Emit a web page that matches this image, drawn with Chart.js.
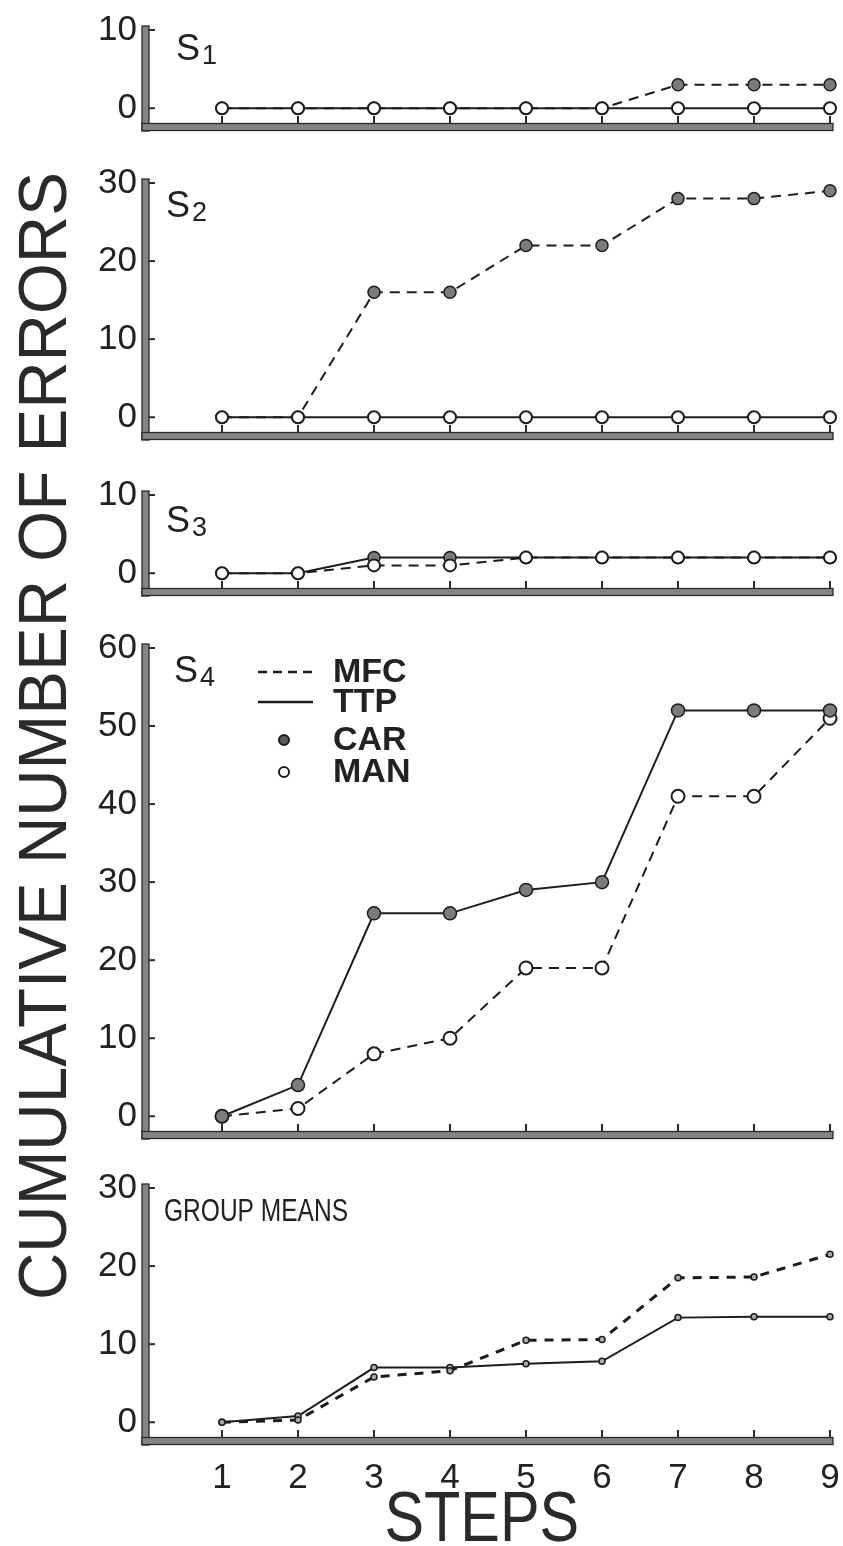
<!DOCTYPE html>
<html>
<head>
<meta charset="utf-8">
<script src="https://cdn.jsdelivr.net/npm/chart.js@4.4.0/dist/chart.umd.min.js"></script>
<style>
  html, body { margin: 0; padding: 0; background: #fff; }
  body { width: 843px; height: 1546px; position: relative; overflow: hidden;
         font-family: "Liberation Sans", Arial, sans-serif; color: #2a2a2a; }
  .ytitle { position: absolute; left: -522px; top: 722px; width: 1128px; height: 70px;
            line-height: 70px; font-size: 68px; text-align: center; white-space: nowrap;
            transform: rotate(-90deg); }
  .xtitle { position: absolute; left: 282px; top: 1482px; width: 400px; height: 70px;
            line-height: 70px; font-size: 70px; text-align: center; white-space: nowrap; }
  .ytitle span, .xtitle span { display: inline-block; }
</style>
</head>
<body>
<div class="ytitle"><span id="yt">CUMULATIVE NUMBER OF ERRORS</span></div>
<div class="xtitle"><span id="xt">STEPS</span></div>
<script>
// data
const steps = [1, 2, 3, 4, 5, 6, 7, 8, 9];

const s1Ticks = [0, 10];
const s1Mfc = [0, 0, 0, 0, 0, 0, 3, 3, 3];          // CAR
const s1Ttp = [0, 0, 0, 0, 0, 0, 0, 0, 0];          // MAN

const s2Ticks = [0, 10, 20, 30];
const s2Mfc = [0, 0, 16, 16, 22, 22, 28, 28, 29];   // CAR
const s2Ttp = [0, 0, 0, 0, 0, 0, 0, 0, 0];          // MAN

const s3Ticks = [0, 10];
const s3Ttp = [0, 0, 2, 2, 2, 2, 2, 2, 2];          // CAR
const s3Mfc = [0, 0, 1, 1, 2, 2, 2, 2, 2];          // MAN

const s4Ticks = [0, 10, 20, 30, 40, 50, 60];
const s4Ttp = [0, 4, 26, 26, 29, 30, 52, 52, 52];   // CAR
const s4Mfc = [0, 1, 8, 10, 19, 19, 41, 41, 51];    // MAN

const gmTicks = [0, 10, 20, 30];
const gmTtp = [0, 0.8, 7, 7, 7.5, 7.8, 13.4, 13.5, 13.5];
const gmMfc = [0, 0.3, 5.8, 6.6, 10.5, 10.6, 18.5, 18.6, 21.5];

const legendLabels = ['MFC', 'TTP', 'CAR', 'MAN'];

const PX = 7.8;      // pixels per error
const YMIN = -2.4;   // baseline sits a bit under zero
const FONT = '"Liberation Sans", Arial, sans-serif';
const INK = '#1c1c1c';

function series(data, dashed, filled, r, w) {
  return {
    data: data.map((v, i) => ({ x: steps[i], y: v })),
    borderColor: INK,
    borderWidth: w || 2,
    borderDash: dashed ? [10, 7] : [],
    pointRadius: r,
    pointBackgroundColor: filled ? '#7b7b7b' : '#fff',
    pointBorderColor: INK,
    pointBorderWidth: filled ? 1.5 : 2,
    tension: 0,
    fill: false,
    clip: false
  };
}

function decor(cfg) {
  return {
    id: 'decor',
    beforeDatasetsDraw(chart) {
      const { ctx, chartArea: a, scales: { x, y } } = chart;
      ctx.save();
      ctx.strokeStyle = '#2b2b2b';
      ctx.lineWidth = 2;
      steps.forEach(s => {
        const px = x.getPixelForValue(s);
        ctx.beginPath(); ctx.moveTo(px, a.bottom); ctx.lineTo(px, a.bottom - 11); ctx.stroke();
      });
      cfg.yTicks.forEach(v => {
        const py = y.getPixelForValue(v);
        ctx.beginPath(); ctx.moveTo(a.left, py); ctx.lineTo(a.left + 9, py); ctx.stroke();
      });
      // thick stippled-looking axis bars
      ctx.fillStyle = '#858585';
      ctx.strokeStyle = '#2a2a2a';
      ctx.lineWidth = 1.3;
      ctx.fillRect(a.left - 4, a.top - 4, 7, a.bottom - a.top + 8);
      ctx.strokeRect(a.left - 4, a.top - 4, 7, a.bottom - a.top + 8);
      ctx.fillRect(a.left - 4, a.bottom - 3.5, a.right - a.left + 7, 7);
      ctx.strokeRect(a.left - 4, a.bottom - 3.5, a.right - a.left + 7, 7);
      ctx.restore();
    },
    afterDatasetsDraw(chart) {
      const { ctx, chartArea: a } = chart;
      ctx.save();
      ctx.fillStyle = '#222';
      ctx.textBaseline = 'middle';
      ctx.textAlign = 'left';
      const x0 = a.left + cfg.nameDx, y0 = a.top + cfg.nameDy;
      if (cfg.sub) {
        ctx.font = '36px ' + FONT;
        ctx.fillText('S', x0, y0);
        const w = ctx.measureText('S').width;
        ctx.font = '27px ' + FONT;
        ctx.fillText(cfg.sub, x0 + w + 2, y0 + 7);
      } else {
        ctx.font = '32px ' + FONT;
        ctx.fillText(cfg.name, x0, y0, 184);
      }
      if (cfg.legend) {
        const rows = [24, 54, 92, 124];
        const lx = a.left + 112, tx = a.left + 187;
        ctx.strokeStyle = INK;
        ctx.lineWidth = 2.5;
        ctx.setLineDash([9, 6]);
        ctx.beginPath(); ctx.moveTo(lx, a.top + rows[0]); ctx.lineTo(lx + 55, a.top + rows[0]); ctx.stroke();
        ctx.setLineDash([]);
        ctx.beginPath(); ctx.moveTo(lx, a.top + rows[1]); ctx.lineTo(lx + 55, a.top + rows[1]); ctx.stroke();
        ctx.lineWidth = 2;
        ctx.fillStyle = '#5a5a5a';
        ctx.beginPath(); ctx.arc(lx + 26, a.top + rows[2], 5, 0, Math.PI * 2); ctx.fill(); ctx.stroke();
        ctx.fillStyle = '#fff';
        ctx.beginPath(); ctx.arc(lx + 26, a.top + rows[3], 5, 0, Math.PI * 2); ctx.fill(); ctx.stroke();
        ctx.fillStyle = '#222';
        ctx.font = 'bold 34px ' + FONT;
        legendLabels.forEach((t, i) => ctx.fillText(t, tx, a.top + rows[i] + 1));
      }
      ctx.restore();
    }
  };
}

function addPanel(cfg) {
  const padTop = 22;
  const areaH = (cfg.max - YMIN) * PX;
  const xH = cfg.xLabels ? 64 : 8;
  const c = document.createElement('canvas');
  c.width = 843;
  c.height = Math.round(padTop + areaH + xH);
  c.style.cssText = 'position:absolute;left:0;top:' + (cfg.top - padTop) + 'px';
  document.body.appendChild(c);

  new Chart(c, {
    type: 'line',
    data: { datasets: cfg.datasets },
    plugins: [decor(cfg)],
    options: {
      responsive: false,
      animation: false,
      devicePixelRatio: 1,
      events: [],
      layout: { autoPadding: false, padding: { top: padTop, left: 0, right: 13, bottom: 0 } },
      plugins: { legend: { display: false }, tooltip: { enabled: false } },
      scales: {
        x: {
          type: 'linear', min: 0, max: 9,
          afterBuildTicks: s => { s.ticks = steps.map(v => ({ value: v })); },
          afterFit: s => { s.height = xH; s.paddingLeft = 0; s.paddingRight = 0; },
          grid: { display: false, drawTicks: false },
          border: { display: false },
          ticks: { display: !!cfg.xLabels, padding: 16, color: '#222', maxRotation: 0, autoSkip: false,
                   font: { family: FONT, size: 35 } }
        },
        y: {
          min: YMIN, max: cfg.max,
          afterBuildTicks: s => { s.ticks = cfg.yTicks.map(v => ({ value: v })); },
          afterFit: s => { s.width = 146; s.paddingTop = 0; s.paddingBottom = 0; },
          grid: { display: false, drawTicks: false },
          border: { display: false },
          ticks: { padding: 9, color: '#222', font: { family: FONT, size: 35 } }
        }
      }
    }
  });
}

// dataset 0 is painted last, so it sits on top
addPanel({ top: 30, max: 10, yTicks: s1Ticks, sub: '1', nameDx: 30, nameDy: 20,
  datasets: [series(s1Ttp, false, false, 6), series(s1Mfc, true, true, 6)] });

addPanel({ top: 183, max: 30, yTicks: s2Ticks, sub: '2', nameDx: 20, nameDy: 24,
  datasets: [series(s2Ttp, false, false, 6), series(s2Mfc, true, true, 6)] });

addPanel({ top: 495, max: 10, yTicks: s3Ticks, sub: '3', nameDx: 20, nameDy: 27,
  datasets: [series(s3Mfc, true, false, 6), series(s3Ttp, false, true, 6)] });

addPanel({ top: 648, max: 60, yTicks: s4Ticks, sub: '4', nameDx: 28, nameDy: 24, legend: true,
  datasets: [series(s4Ttp, false, true, 6.5), series(s4Mfc, true, false, 6.5)] });

addPanel({ top: 1188, max: 30, yTicks: gmTicks, name: 'GROUP MEANS', nameDx: 18, nameDy: 24, xLabels: true,
  datasets: [
    Object.assign(series(gmMfc, true, true, 3, 3), { borderDash: [9, 8], pointBackgroundColor: '#aaa' }),
    Object.assign(series(gmTtp, false, true, 3, 2), { pointBackgroundColor: '#aaa' })
  ] });

// squeeze the lettering to the widths in the figure
function fit(id, w) {
  const el = document.getElementById(id);
  el.style.transform = 'scaleX(' + (w / el.offsetWidth) + ')';
}
fit('yt', 1128);
fit('xt', 195);
</script>
</body>
</html>
